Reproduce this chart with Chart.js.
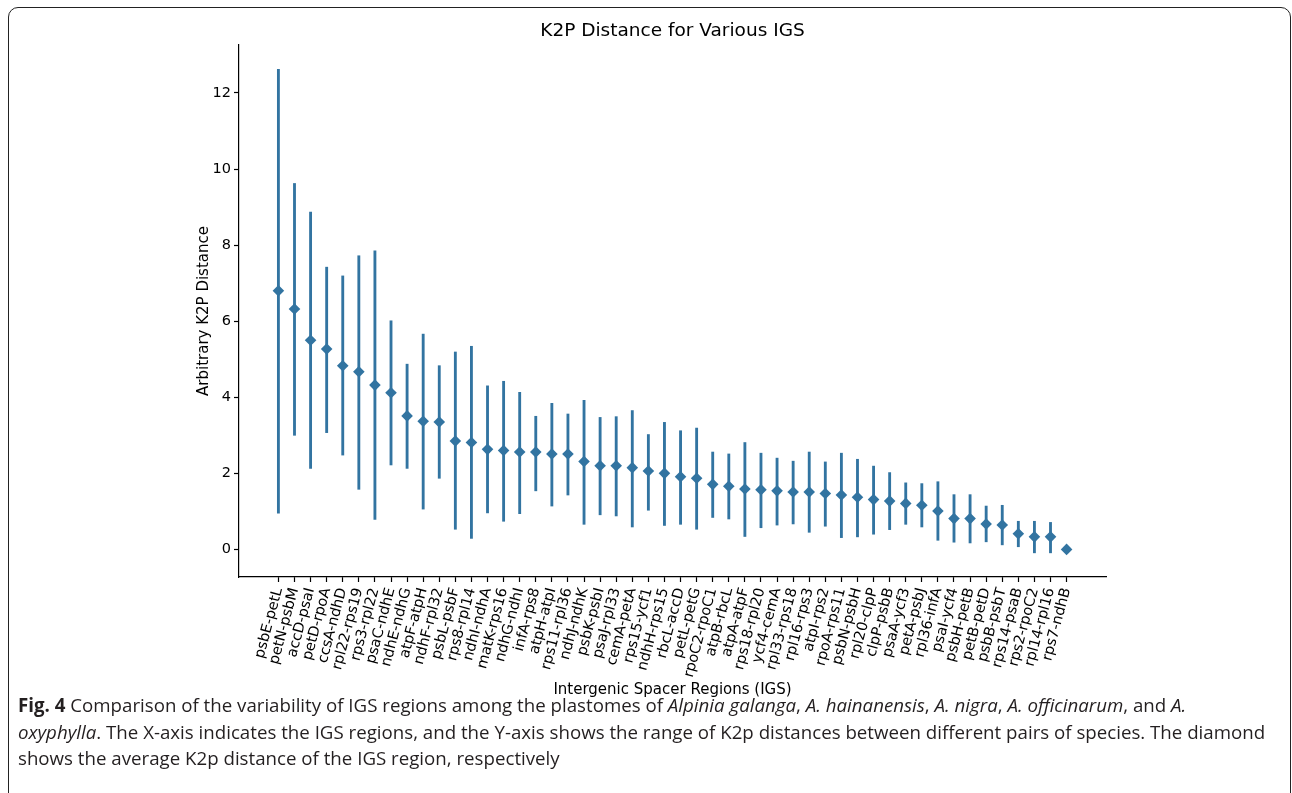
<!DOCTYPE html>
<html>
<head>
<meta charset="utf-8">
<script src="https://cdn.jsdelivr.net/npm/chart.js@4/dist/chart.umd.min.js"></script>
<style>
  html, body { margin: 0; padding: 0; background: #fff; width: 1292px; height: 793px; overflow: hidden; }
  #frame { position: absolute; left: 8px; top: 7px; width: 1283px; height: 900px; border: 1.5px solid #222; border-radius: 10px; box-sizing: border-box; }
  #chart { position: absolute; left: 0; top: 0; }
  #caption { position: absolute; left: 18px; top: 692px; font-family: "Open Sans", sans-serif; font-size: 18.7px; line-height: 26.7px; color: #231f20; white-space: nowrap; }
  #caption b { font-weight: 700; }
</style>
</head>
<body>
<div id="frame"></div>
<canvas id="chart" width="1292" height="700"></canvas>
<div id="caption"><b>Fig. 4</b> Comparison of the variability of IGS regions among the plastomes of <i>Alpinia galanga</i>, <i>A. hainanensis</i>, <i>A. nigra</i>, <i>A. officinarum</i>, and <i>A.</i><br><i>oxyphylla</i>. The X-axis indicates the IGS regions, and the Y-axis shows the range of K2p distances between different pairs of species. The diamond<br>shows the average K2p distance of the IGS region, respectively</div>
<script>
const categories = ["psbE-petL","petN-psbM","accD-psaI","petD-rpoA","ccsA-ndhD","rpl22-rps19","rps3-rpl22","psaC-ndhE","ndhE-ndhG","atpF-atpH","ndhF-rpl32","psbL-psbF","rps8-rpl14","ndhI-ndhA","matK-rps16","ndhG-ndhI","infA-rps8","atpH-atpI","rps11-rpl36","ndhJ-ndhK","psbK-psbI","psaJ-rpl33","cemA-petA","rps15-ycf1","ndhH-rps15","rbcL-accD","petL-petG","rpoC2-rpoC1","atpB-rbcL","atpA-atpF","rps18-rpl20","ycf4-cemA","rpl33-rps18","rpl16-rps3","atpI-rps2","rpoA-rps11","psbN-psbH","rpl20-clpP","clpP-psbB","psaA-ycf3","petA-psbJ","rpl36-infA","psaI-ycf4","psbH-petB","petB-petD","psbB-psbT","rps14-psaB","rps2-rpoC2","rpl14-rpl16","rps7-ndhB"];
const means = [6.80,6.32,5.50,5.27,4.83,4.67,4.32,4.12,3.51,3.37,3.35,2.85,2.81,2.63,2.60,2.56,2.56,2.51,2.51,2.31,2.20,2.20,2.15,2.06,2.00,1.91,1.87,1.71,1.66,1.59,1.57,1.54,1.51,1.51,1.47,1.43,1.37,1.31,1.27,1.21,1.16,1.01,0.81,0.81,0.67,0.64,0.41,0.33,0.33,0.00];
const highs = [12.62,9.62,8.87,7.42,7.19,7.72,7.85,6.01,4.87,5.66,4.83,5.19,5.34,4.30,4.42,4.13,3.50,3.84,3.56,3.92,3.47,3.49,3.65,3.02,3.34,3.12,3.19,2.56,2.51,2.81,2.53,2.40,2.32,2.56,2.30,2.53,2.37,2.19,2.02,1.75,1.73,1.78,1.44,1.44,1.14,1.16,0.74,0.74,0.71,0.00];
const lows = [0.95,3.00,2.13,3.07,2.48,1.58,0.79,2.22,2.13,1.06,1.87,0.53,0.29,0.96,0.74,0.94,1.54,1.14,1.43,0.66,0.91,0.88,0.59,1.03,0.63,0.66,0.53,0.84,0.80,0.34,0.57,0.64,0.67,0.45,0.61,0.31,0.33,0.40,0.52,0.66,0.59,0.24,0.19,0.17,0.20,0.12,0.07,-0.09,-0.09,0.00];
const yTicks = [0,2,4,6,8,10,12];

const blue = '#3274a1';
const font = 'DejaVu Sans';

new Chart(document.getElementById('chart'), {
  type: 'bar',
  data: {
    datasets: [
      {
        type: 'scatter',
        order: 0,
        data: means.map((v, i) => ({x: i, y: v})),
        pointStyle: 'rectRot',
        pointRadius: 5.8,
        pointBackgroundColor: blue,
        pointBorderWidth: 0,
        showLine: false
      },
      {
        type: 'bar',
        order: 1,
        data: lows.map((v, i) => ({x: i, y: [v, highs[i]]})),
        backgroundColor: blue,
        borderWidth: 0,
        barThickness: 2.2,
        borderSkipped: false
      }
    ]
  },
  options: {
    responsive: false,
    animation: false,
    devicePixelRatio: 1,
    layout: { padding: { left: 190, right: 186, top: 10, bottom: 0 } },
    plugins: {
      legend: { display: false },
      tooltip: { enabled: false },
      title: {
        display: true,
        fullSize: false,
        text: 'K2P Distance for Various IGS',
        color: '#000',
        font: { family: font, size: 18.5, weight: 'normal' },
        padding: { top: 10, bottom: 2.8 }
      }
    },
    scales: {
      x: {
        type: 'linear',
        offset: false,
        min: -2.45,
        max: 51.45,
        afterBuildTicks: (s) => { s.ticks = categories.map((_, i) => ({value: i})); },
        afterFit: (s) => { s.height = 123; },
        grid: { display: true, offset: false, drawOnChartArea: false, drawTicks: true, tickLength: 5, tickColor: '#000', tickWidth: 1.2 },
        border: { display: true, color: '#000', width: 1.2 },
        ticks: {
          autoSkip: false,
          minRotation: 75,
          maxRotation: 75,
          padding: 4,
          color: '#000',
          font: { family: font, size: 14.5 },
          callback: (v) => categories[v]
        },
        title: {
          display: true,
          text: 'Intergenic Spacer Regions (IGS)',
          color: '#000',
          font: { family: font, size: 15 },
          padding: { top: 0, bottom: 1 }
        }
      },
      y: {
        type: 'linear',
        min: -0.725,
        max: 13.26,
        afterBuildTicks: (s) => { s.ticks = yTicks.map(v => ({value: v})); },
        afterFit: (s) => { s.width = 49; },
        grid: { display: true, drawOnChartArea: false, drawTicks: true, tickLength: 5, tickColor: '#000', tickWidth: 1.2 },
        border: { display: true, color: '#000', width: 1.2 },
        ticks: {
          padding: 3,
          color: '#000',
          font: { family: font, size: 14.5 },
          callback: (v) => String(v)
        },
        title: {
          display: true,
          text: 'Arbitrary K2P Distance',
          color: '#000',
          font: { family: font, size: 15 },
          padding: { top: 5, bottom: 0 }
        }
      }
    }
  }
});
</script>
</body>
</html>
